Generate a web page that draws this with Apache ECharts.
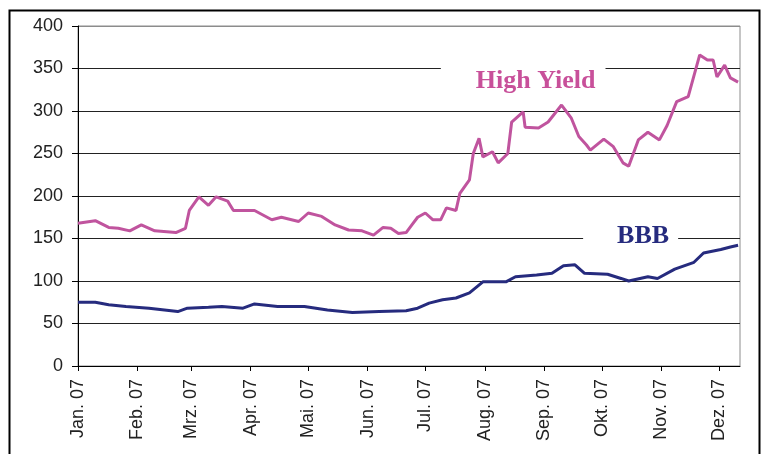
<!DOCTYPE html>
<html>
<head>
<meta charset="utf-8">
<script src="https://cdn.jsdelivr.net/npm/echarts@6/dist/echarts.min.js"></script>
<style>html,body{margin:0;padding:0;background:#fff;}#c{width:763px;height:454px;}</style>
</head>
<body>
<div id="c"></div>
<script>
const hyDates = ['2007-01-01','2007-01-10','2007-01-17','2007-01-22','2007-01-28','2007-02-03','2007-02-10','2007-02-21','2007-02-26','2007-02-28','2007-03-05','2007-03-10','2007-03-14','2007-03-20','2007-03-23','2007-03-31','2007-04-03','2007-04-12','2007-04-17','2007-04-26','2007-05-01','2007-05-08','2007-05-15','2007-05-22','2007-05-29','2007-06-04','2007-06-09','2007-06-13','2007-06-17','2007-06-21','2007-06-24','2007-06-27','2007-07-01','2007-07-05','2007-07-09','2007-07-12','2007-07-17','2007-07-19','2007-07-24','2007-07-26','2007-07-29','2007-07-31','2007-08-05','2007-08-08','2007-08-13','2007-08-15','2007-08-21','2007-08-22','2007-08-29','2007-09-03','2007-09-10','2007-09-15','2007-09-19','2007-09-23','2007-09-25','2007-10-02','2007-10-07','2007-10-12','2007-10-15','2007-10-20','2007-10-25','2007-10-31','2007-11-04','2007-11-09','2007-11-15','2007-11-21','2007-11-25','2007-11-28','2007-11-30','2007-12-04','2007-12-07','2007-12-11'];
const hyValues = [168,171,163,162,159,166,159,157,162,183,199,189,199,194,183,183,183,172,175,170,180,176,166,160,159,154,163,162,156,157,166,175,180,172,172,186,183,203,219,250,268,246,252,239,250,287,299,281,280,287,307,292,270,260,254,267,258,239,235,266,275,266,283,311,317,366,360,360,340,354,339,334];
const bbbDates = ['2007-01-01','2007-01-10','2007-01-17','2007-01-26','2007-02-07','2007-02-22','2007-02-27','2007-03-10','2007-03-17','2007-03-28','2007-04-03','2007-04-15','2007-04-29','2007-05-11','2007-05-24','2007-06-07','2007-06-21','2007-06-27','2007-07-03','2007-07-10','2007-07-17','2007-07-24','2007-07-31','2007-08-12','2007-08-17','2007-08-28','2007-09-05','2007-09-11','2007-09-17','2007-09-22','2007-10-04','2007-10-11','2007-10-15','2007-10-25','2007-10-30','2007-11-08','2007-11-18','2007-11-23','2007-12-02','2007-12-07','2007-12-11'];
const bbbValues = [75,75,72,70,68,64,68,69,70,68,73,70,70,66,63,64,65,68,74,78,80,86,99,99,105,107,109,118,119,109,108,103,100,105,103,114,122,133,137,140,142];
const monthTicks = ['2007-01-01','2007-02-01','2007-03-01','2007-04-01','2007-05-01','2007-06-01','2007-07-01','2007-08-01','2007-09-01','2007-10-01','2007-11-01','2007-12-01'];
const monthLabels = ['Jan. 07','Feb. 07','Mrz. 07','Apr. 07','Mai. 07','Jun. 07','Jul. 07','Aug. 07','Sep. 07','Okt. 07','Nov. 07','Dez. 07'];
const yTicks = [0,50,100,150,200,250,300,350,400];

const ts = s => echarts.number.parseDate(s).getTime();
const tickVals = monthTicks.map(ts);
const labelMap = {};
tickVals.forEach((t,i)=>{labelMap[t]=monthLabels[i];});

const chart = echarts.init(document.getElementById('c'), null, {renderer:'canvas'});
const labelFont = 'Liberation Sans';
chart.setOption({
  animation:false,
  backgroundColor:'#fff',
  grid:{left:78,right:23,top:26,bottom:88,show:true,borderColor:'#8c8c8c',borderWidth:1},
  xAxis:{
    type:'value',
    min:ts('2007-01-01'), max:ts('2007-12-12'),
    axisLine:{onZero:false,lineStyle:{color:'#000',width:1}},
    axisTick:{show:true,length:5,inside:false,lineStyle:{color:'#000'},customValues:tickVals},
    axisLabel:{customValues:tickVals,rotate:90,margin:13,fontFamily:labelFont,fontSize:18,color:'#222',
      formatter:v=>labelMap[v]||''},
    splitLine:{show:false}
  },
  yAxis:{
    type:'value',min:yTicks[0],max:yTicks[yTicks.length-1],interval:50,
    axisLine:{show:true,lineStyle:{color:'#000',width:1}},
    axisTick:{show:true,length:6,lineStyle:{color:'#000'}},
    axisLabel:{margin:15,fontFamily:labelFont,fontSize:18,color:'#222'},
    splitLine:{show:true,lineStyle:{color:['#000','#222','#222','#222','#222','#222','#222','#222','#8c8c8c'],width:1}}
  },
  series:[
    {type:'line',name:'High Yield',data:hyDates.map((d,i)=>[ts(d),hyValues[i]]),showSymbol:false,
      lineStyle:{color:'#c0549e',width:3},itemStyle:{color:'#c0549e'},z:3,
      markPoint:{symbol:'rect',symbolSize:0,silent:true,
        data:[{coord:[ts('2007-08-21'),335],label:{show:true,position:'inside',formatter:'High Yield',
          fontFamily:'Liberation Serif',fontWeight:'bold',fontSize:26,color:'#c8509a',
          backgroundColor:'#fff',padding:[2,10,2,35]}}]}},
    {type:'line',name:'BBB',data:bbbDates.map((d,i)=>[ts(d),bbbValues[i]]),showSymbol:false,
      lineStyle:{color:'#262b7e',width:3},itemStyle:{color:'#262b7e'},z:3,
      markPoint:{symbol:'rect',symbolSize:0,silent:true,
        data:[{coord:[ts('2007-10-16'),153],label:{show:true,position:'inside',formatter:'BBB',
          fontFamily:'Liberation Serif',fontWeight:'bold',fontSize:26,color:'#262b7e',
          backgroundColor:'#fff',padding:[2,9,2,34]}}]}}
  ],
  graphic:[{type:'rect',left:7,top:8,shape:{width:750,height:460},style:{fill:'none',stroke:'#000',lineWidth:2},silent:true,z:100}]
});
</script>
</body>
</html>
